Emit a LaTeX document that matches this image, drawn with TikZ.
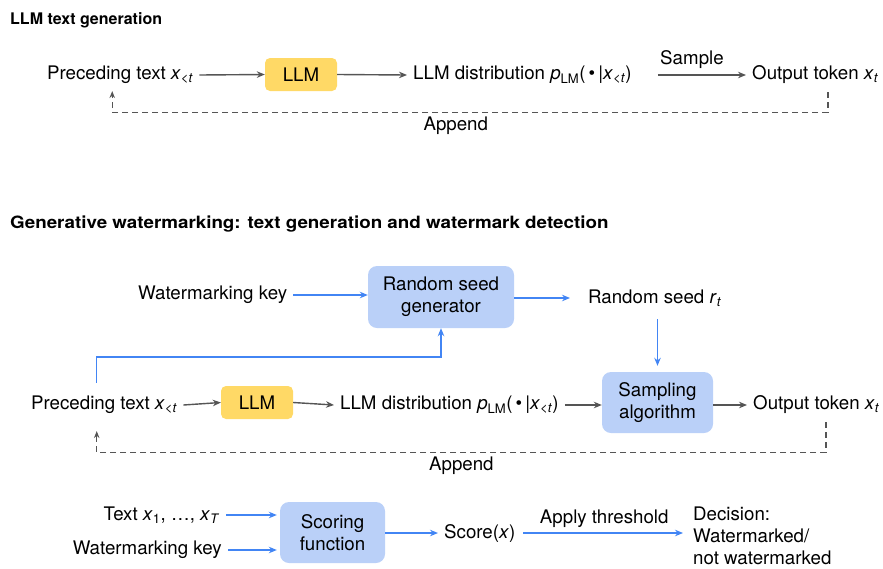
\documentclass[tikz,border=0pt]{standalone}
\usepackage{fontspec}
\setmainfont{TeX Gyre Heros}
\usetikzlibrary{arrows.meta, positioning, calc}
\definecolor{llmyellow}{RGB}{255,217,102}
\definecolor{seedblue}{RGB}{186,208,248}
\definecolor{wmblue}{RGB}{66,133,244}
\definecolor{arrgray}{RGB}{85,85,85}
\newcommand{\xlt}{\textit{x}\textsubscript{\textit{<t}}}
\newcommand{\xtok}{\textit{x}\textsubscript{\textit{t}}}
\newcommand{\plm}{\textit{p}\textsubscript{LM}(\,\textbullet\,|\xlt)}

\begin{document}
\begin{tikzpicture}[x=1pt, y=-1pt, font=\fontsize{18.7}{22}\selectfont,
    txt/.style={inner xsep=6pt, inner ysep=2pt},
    title/.style={font=\fontsize{16}{20}\selectfont\bfseries, anchor=base west, inner sep=0pt},
    llmbox/.style={fill=llmyellow, rounded corners=5pt, minimum width=72pt, minimum height=33pt},
    bluebox/.style={fill=seedblue, rounded corners=9pt, align=center, inner sep=0pt},
    garr/.style={draw=arrgray, line width=1.4pt, -{Stealth[length=8pt,width=6.5pt]}},
    barr/.style={draw=wmblue, line width=1.5pt, -{Stealth[length=8pt,width=6.5pt]}},
    dasharr/.style={draw=arrgray, line width=1.1pt, dash pattern=on 6pt off 4pt, -{Stealth[length=7pt,width=5.5pt]}}]

    \useasboundingbox (0,0) rectangle (883,568);

    % LLM text generation
    \node[title] (t1) at (10,24) {LLM text generation};
    \node[txt, anchor=west] (pre1) at (41,75) {Preceding text \xlt};
    \node[llmbox] (llm1) at (301,74.5) {LLM};
    \node[txt, anchor=west] (dist1) at (407,75) {LLM distribution \plm};
    \node[txt, anchor=west] (out1) at (746,75) {Output token \xtok};

    \draw[garr] (pre1.east) -- (llm1.west); % vao LLM
    \draw[garr] (llm1.east) -- (dist1.west); % ra phan phoi
    \draw[garr, shorten <=20pt] (dist1.east) -- node[above=2pt] {Sample} (out1.west); % lay mau
    \draw[dasharr, shorten >=5pt] ([xshift=82pt,yshift=-6pt]out1.south west) -- ++(0,20)
        -| ([xshift=-8pt]pre1.south) node[pos=0.26, below=1pt] {Append}; % noi them

    % Generative watermarking
    \node[title] (t2) at (10,228) {\scalebox{1.175}[1.06]{Generative watermarking: text generation and watermark detection}};
    \node[txt, anchor=west] (key1) at (132,295) {Watermarking key};
    \node[bluebox, minimum width=146pt, minimum height=62pt] (rsg) at (441,297) {Random seed\\generator};
    \node[txt, anchor=west] (seed) at (582,298) {Random seed \textit{r}\textsubscript{\textit{t}}};
    \node[bluebox, minimum width=111pt, minimum height=61pt] (samp) at (657.5,402.5) {Sampling\\algorithm};
    \node[txt, anchor=west] (pre2) at (25,405) {Preceding text \xlt};
    \node[llmbox] (llm2) at (257,402.5) {LLM};
    \node[txt, anchor=west] (dist2) at (334,405) {LLM distribution \plm};
    \node[txt, anchor=west] (out2) at (747,405) {Output token \xtok};

    \draw[barr] (key1.east) -- (key1.east -| rsg.west); % khoa
    \draw[barr, shorten >=12pt] (rsg.east |- seed.west) -- (seed.west); % hat giong
    \draw[barr, shorten <=11pt, shorten >=6pt] (seed.south -| samp.north) -- (samp.north);
    \draw[barr] ([xshift=-7.5pt,yshift=11pt]pre2.north) |- ([yshift=-29pt]rsg.south) -- (rsg.south);
    \draw[garr] (pre2.east) -- (llm2.west);
    \draw[garr] (llm2.east) -- (dist2.west);
    \draw[garr] (dist2.east) -- (dist2.east -| samp.west);
    \draw[garr] (samp.east |- out2.west) -- (out2.west);
    \draw[dasharr, shorten >=15pt] ([xshift=79pt,yshift=-6pt]out2.south west) -- ++(0,30)
        -| ([xshift=-7.5pt]pre2.south) node[pos=0.25, below=1pt] {Append};

    % Watermark detection
    \node[txt, anchor=east] (txtin) at (226,515) {Text \textit{x}\textsubscript{1}, \ldots, \textit{x}\textsubscript{\textit{T}}};
    \node[txt, anchor=east] (key2) at (228,550) {Watermarking key};
    \node[bluebox, minimum width=105pt, minimum height=61pt] (sfun) at (332.5,532.5) {Scoring\\function};
    \node[txt, anchor=west] (score) at (438,533) {Score(\textit{x})};
    \node[txt, anchor=west, align=left] (dec) at (687,536) {Decision:\\Watermarked/\\not watermarked};

    \draw[barr, shorten >=3pt] (txtin.east) -- (txtin.east -| sfun.west);
    \draw[barr, shorten >=3pt] (key2.east) -- (key2.east -| sfun.west);
    \draw[barr] (sfun.east |- score.west) -- (score.west);
    \draw[barr, shorten <=2pt, shorten >=4pt] (score.east) -- node[above=1pt] {Apply threshold} (score.east -| dec.west);

\end{tikzpicture}
\end{document}
